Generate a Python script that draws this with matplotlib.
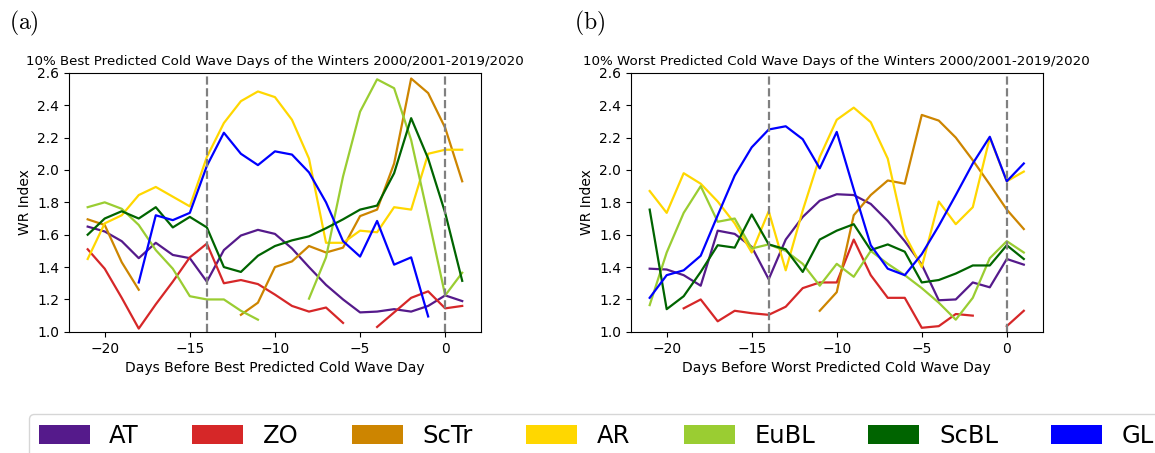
import numpy as np
import matplotlib
matplotlib.use("Agg")
import matplotlib.pyplot as plt
from matplotlib.patches import Patch

nan = np.nan
days = list(range(-21, 2))

regimes = ["AT", "ZO", "ScTr", "AR", "EuBL", "ScBL", "GL"]
colors = ["#551a8b", "#d62728", "#cd8500", "#ffd700", "#9acd32", "#006400", "#0000ff"]

# (a) best predicted cold wave days
best_AT = [1.65, 1.62, 1.56, 1.455, 1.55, 1.475, 1.455, 1.31, 1.505, 1.595, 1.63, 1.605,
           1.515, 1.40, 1.29, 1.20, 1.12, 1.125, 1.14, 1.125, 1.16, 1.225, 1.19]
best_ZO = [1.51, 1.39, 1.21, 1.02, 1.17, 1.31, 1.46, 1.545, 1.30, 1.32, 1.295, 1.23,
           1.16, 1.125, 1.15, 1.055, nan, 1.03, 1.12, 1.21, 1.25, 1.145, 1.16]
best_ScTr = [1.695, 1.66, 1.43, 1.26, nan, nan, nan, nan, nan, 1.105, 1.18, 1.40,
             1.435, 1.53, 1.49, 1.52, 1.715, 1.755, 2.04, 2.565, 2.475, 2.26, 1.93]
best_AR = [1.45, 1.67, 1.72, 1.845, 1.895, 1.835, 1.775, 2.08, 2.29, 2.425, 2.485, 2.45,
           2.31, 2.07, 1.55, 1.55, 1.625, 1.615, 1.77, 1.755, 2.10, 2.125, 2.125]
best_EuBL = [1.77, 1.80, 1.76, 1.66, 1.505, 1.39, 1.22, 1.20, 1.20, 1.13, 1.075, nan,
             nan, 1.205, 1.46, 1.96, 2.36, 2.56, 2.505, 2.185, 1.71, 1.225, 1.365]
best_ScBL = [1.60, 1.70, 1.745, 1.70, 1.77, 1.645, 1.71, 1.645, 1.40, 1.37, 1.47, 1.53,
             1.565, 1.59, 1.64, 1.695, 1.755, 1.78, 1.98, 2.32, 2.07, 1.735, 1.315]
best_GL = [nan, nan, nan, 1.305, 1.72, 1.69, 1.735, 2.025, 2.23, 2.10, 2.03, 2.115,
           2.095, 1.985, 1.80, 1.56, 1.465, 1.685, 1.415, 1.46, 1.095, nan, nan]

# (b) worst predicted cold wave days
worst_AT = [1.39, 1.385, 1.35, 1.285, 1.625, 1.605, 1.525, 1.325, 1.57, 1.71, 1.81, 1.85,
            1.845, 1.79, 1.685, 1.56, 1.415, 1.195, 1.20, 1.305, 1.275, 1.45, 1.415]
worst_ZO = [nan, nan, 1.145, 1.20, 1.065, 1.13, 1.115, 1.105, 1.155, 1.27, 1.305, 1.305,
            1.57, 1.35, 1.21, 1.21, 1.025, 1.035, 1.11, 1.10, nan, 1.035, 1.13]
worst_ScTr = [nan, nan, nan, nan, nan, nan, nan, nan, nan, nan, 1.13, 1.245,
              1.72, 1.845, 1.935, 1.915, 2.34, 2.305, 2.20, 2.06, 1.91, 1.755, 1.635]
worst_AR = [1.87, 1.735, 1.98, 1.915, 1.805, 1.67, 1.49, 1.745, 1.38, 1.75, 2.08, 2.31,
            2.385, 2.295, 2.07, 1.60, 1.40, 1.805, 1.665, 1.77, 2.20, 1.93, 1.99]
worst_EuBL = [1.165, 1.49, 1.735, 1.90, 1.68, 1.70, 1.515, 1.54, 1.50, 1.42, 1.285, 1.42,
              1.34, 1.50, 1.42, 1.35, 1.27, 1.18, 1.075, 1.21, 1.455, 1.56, 1.49]
worst_ScBL = [1.755, 1.14, 1.22, 1.37, 1.535, 1.52, 1.725, 1.54, 1.51, 1.37, 1.57, 1.625,
              1.665, 1.505, 1.54, 1.495, 1.305, 1.32, 1.36, 1.41, 1.41, 1.535, 1.45]
worst_GL = [1.21, 1.35, 1.38, 1.47, 1.72, 1.965, 2.14, 2.25, 2.27, 2.19, 2.01, 2.235,
            1.88, 1.535, 1.39, 1.35, 1.48, 1.655, 1.845, 2.04, 2.205, 1.93, 2.04]

best = [best_AT, best_ZO, best_ScTr, best_AR, best_EuBL, best_ScBL, best_GL]
worst = [worst_AT, worst_ZO, worst_ScTr, worst_AR, worst_EuBL, worst_ScBL, worst_GL]

fig = plt.figure(figsize=(11.55, 4.53), dpi=100)
ax1 = fig.add_axes([0.0597, 0.2675, 0.3567, 0.5717])
ax2 = fig.add_axes([0.5463, 0.2675, 0.3563, 0.5717])

panels = [
    (ax1, best, "10% Best Predicted Cold Wave Days of the Winters 2000/2001-2019/2020",
     "Days Before Best Predicted Cold Wave Day"),
    (ax2, worst, "10% Worst Predicted Cold Wave Days of the Winters 2000/2001-2019/2020",
     "Days Before Worst Predicted Cold Wave Day"),
]

for ax, series, title, xlabel in panels:
    for vals, c in zip(series, colors):
        ax.plot(days, vals, color=c, linewidth=1.6)
    ax.axvline(-14, color="gray", linestyle="--", linewidth=1.6)
    ax.axvline(0, color="gray", linestyle="--", linewidth=1.6)
    ax.set_ylim(1.0, 2.6)
    ax.set_xlim(-22.1, 2.1)
    ax.set_yticks(np.arange(1.0, 2.61, 0.2))
    ax.set_title(title, fontsize=9.6)
    ax.set_xlabel(xlabel, fontsize=10)
    ax.set_ylabel("WR Index", fontsize=10)
    ax.tick_params(labelsize=10)

fig.text(0.008, 0.935, r"$\mathrm{(a)}$", fontsize=17, math_fontfamily="cm")
fig.text(0.497, 0.935, r"$\mathrm{(b)}$", fontsize=17, math_fontfamily="cm")

handles = [Patch(facecolor=c, label=r) for c, r in zip(colors, regimes)]
fig.legend(handles=handles, loc="upper left", bbox_to_anchor=(0.0145, 0.112),
           ncol=7, fontsize=17.5, handlelength=2.1, handleheight=0.8,
           columnspacing=2.2, frameon=True)

fig.savefig("out.png", dpi=100)
